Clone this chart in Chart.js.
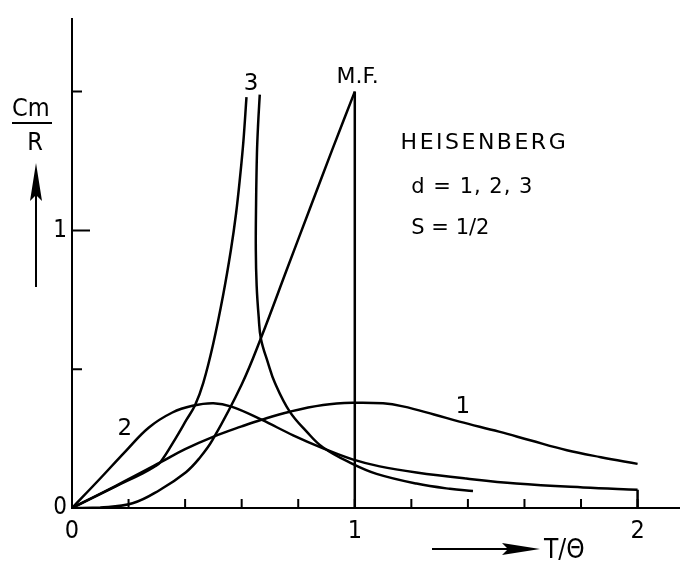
<!DOCTYPE html>
<html>
<head>
<meta charset="utf-8">
<script src="https://cdn.jsdelivr.net/npm/chart.js@4/dist/chart.umd.min.js"></script>
<style>
    html, body { margin: 0; padding: 0; background: #fff; }
    #wrap { width: 680px; height: 565px; position: relative; }
</style>
</head>
<body>
<div id="wrap"><canvas id="myChart"></canvas></div>
<script>
// reduced temperature T/theta and specific heat Cm/R
const d1T = [0, 0.155, 0.314, 0.4, 0.503, 0.6, 0.67, 0.77, 0.888, 0.992, 1.1, 1.17, 1.28, 1.37, 1.51, 1.62, 1.75, 1.87, 2.0]
const d1C = [0, 0.08, 0.165, 0.212, 0.258, 0.294, 0.318, 0.347, 0.371, 0.379, 0.377, 0.366, 0.337, 0.311, 0.275, 0.244, 0.208, 0.183, 0.159]

const d2T = [0, 0.093, 0.19, 0.272, 0.355, 0.426, 0.5, 0.564, 0.67, 0.782, 0.888, 0.992, 1.088, 1.218, 1.394, 1.571, 1.807, 2.0]
const d2C = [0, 0.099, 0.205, 0.29, 0.344, 0.368, 0.377, 0.365, 0.318, 0.262, 0.215, 0.175, 0.15, 0.128, 0.106, 0.088, 0.074, 0.066]

// d = 3 below and above the critical point
const d3LowT = [0, 0.155, 0.25, 0.29, 0.314, 0.367, 0.405, 0.435, 0.464, 0.499, 0.535, 0.562, 0.58, 0.595, 0.606, 0.617]
const d3LowC = [0, 0.078, 0.125, 0.148, 0.167, 0.252, 0.318, 0.37, 0.45, 0.59, 0.77, 0.93, 1.06, 1.2, 1.32, 1.48]
const d3HighT = [0.664, 0.658, 0.654, 0.651, 0.65, 0.653, 0.66, 0.668, 0.693, 0.717, 0.77, 0.829, 0.888, 0.992, 1.077, 1.218, 1.336, 1.418]
const d3HighC = [1.489, 1.38, 1.277, 1.1, 0.93, 0.8, 0.69, 0.61, 0.523, 0.452, 0.347, 0.276, 0.218, 0.159, 0.123, 0.088, 0.069, 0.061]

// mean field
const mfT = [0, 0.1, 0.214, 0.309, 0.403, 0.452, 0.497, 0.6, 0.67, 0.76, 0.84, 0.92, 1.0]
const mfC = [0, 0.002, 0.017, 0.064, 0.129, 0.181, 0.245, 0.445, 0.617, 0.86, 1.075, 1.29, 1.5]
const mfJumpT = [1.0, 1.0]
const mfJumpC = [1.5, 0]
const d2EndT = [2.0, 2.0]
const d2EndC = [0.066, 0]

const xTickMarks = [0.2, 0.4, 0.6, 0.8, 1.0, 1.2, 1.4, 1.6, 1.8, 2.0]
const yTickMarks = [0.5, 1, 1.5]
const xLabels = [0, 1, 2]
const yLabels = [0, 1]

const FONT = "'DejaVu Sans', sans-serif"
const NARROW = "'DejaVu Sans Condensed', 'DejaVu Sans', sans-serif"

function pts(xs, ys) {
    return xs.map((x, i) => ({x: x, y: ys[i]}))
}

function line(data, tension) {
    return {
        data: data,
        showLine: true,
        borderColor: '#000',
        borderWidth: 2.5,
        pointRadius: 0,
        tension: tension || 0,
        fill: false
    }
}

// inward tick marks, text and arrows
const extras = {
    id: 'extras',
    afterDraw(chart) {
        const ctx = chart.ctx
        const xs = chart.scales.x
        const ys = chart.scales.y
        const x0 = xs.getPixelForValue(0)
        const y0 = ys.getPixelForValue(0)
        ctx.save()
        ctx.strokeStyle = '#000'
        ctx.fillStyle = '#000'
        ctx.lineWidth = 2
        ctx.beginPath()
        xTickMarks.forEach(v => {
            const px = xs.getPixelForValue(v)
            ctx.moveTo(px, y0)
            ctx.lineTo(px, y0 - 9)
        })
        yTickMarks.forEach(v => {
            const py = ys.getPixelForValue(v)
            ctx.moveTo(x0, py)
            ctx.lineTo(x0 + (v === 1 ? 18 : 10), py)
        })
        ctx.stroke()

        const put = (txt, tx, ty, size, align) => {
            ctx.font = size + 'px ' + FONT
            ctx.textAlign = align
            ctx.textBaseline = 'middle'
            ctx.fillText(txt, xs.getPixelForValue(tx), ys.getPixelForValue(ty))
        }
        put('3', 0.633, 1.527, 23, 'center')
        put('M.F.', 1.01, 1.551, 22, 'center')
        put('1', 1.382, 0.364, 23, 'center')
        put('2', 0.187, 0.283, 23, 'center')
        ctx.letterSpacing = '2.5px'
        put('HEISENBERG', 1.162, 1.314, 22, 'left')
        ctx.letterSpacing = '1px'
        put('d = 1, 2, 3', 1.2, 1.155, 21, 'left')
        ctx.letterSpacing = '0px'
        put('S = 1/2', 1.2, 1.007, 21, 'left')

        // Cm / R fraction with arrow
        ctx.font = '25px ' + NARROW
        ctx.textAlign = 'left'
        ctx.textBaseline = 'alphabetic'
        ctx.fillText('Cm', 12, 116)
        ctx.fillRect(12, 122, 40, 2)
        ctx.textAlign = 'center'
        ctx.fillText('R', 35, 150)
        ctx.beginPath()
        ctx.moveTo(36, 287)
        ctx.lineTo(36, 190)
        ctx.stroke()
        ctx.beginPath()
        ctx.moveTo(36, 163)
        ctx.lineTo(42, 201)
        ctx.lineTo(36, 195)
        ctx.lineTo(30, 201)
        ctx.closePath()
        ctx.fill()

        // T / theta arrow
        ctx.beginPath()
        ctx.moveTo(432, 549)
        ctx.lineTo(510, 549)
        ctx.stroke()
        ctx.beginPath()
        ctx.moveTo(540, 549)
        ctx.lineTo(502, 543)
        ctx.lineTo(508, 549)
        ctx.lineTo(502, 555)
        ctx.closePath()
        ctx.fill()
        ctx.font = '26px ' + NARROW
        ctx.textAlign = 'left'
        ctx.textBaseline = 'middle'
        ctx.fillText('T/Θ', 544, 551)
        ctx.restore()
    }
}

const ctx = document.getElementById('myChart').getContext('2d')

const myChart = new Chart(ctx, {
    type: 'scatter',
    data: {
        datasets: [
            line(pts(d1T, d1C), 0.4),
            line(pts(d2T, d2C), 0.4),
            line(pts(d2EndT, d2EndC)),
            line(pts(d3LowT, d3LowC), 0.4),
            line(pts(d3HighT, d3HighC), 0.4),
            line(pts(mfT, mfC), 0.4),
            line(pts(mfJumpT, mfJumpC))
        ]
    },
    options: {
        responsive: true,
        maintainAspectRatio: false,
        animation: false,
        layout: { padding: { top: 10, right: 0, left: 0, bottom: 0 } },
        plugins: {
            legend: { display: false },
            tooltip: { enabled: false }
        },
        scales: {
            x: {
                type: 'linear',
                min: 0,
                max: 2.15,
                grid: { display: false, drawTicks: false },
                border: { display: true, color: '#000', width: 2 },
                afterFit: (s) => { s.height = 57 },
                afterBuildTicks: (s) => { s.ticks = xLabels.map(v => ({value: v})) },
                ticks: {
                    autoSkip: false,
                    maxRotation: 0,
                    padding: 8,
                    color: '#000',
                    font: { family: NARROW, size: 25 },
                    callback: (v) => String(Math.round(v))
                }
            },
            y: {
                type: 'linear',
                min: 0,
                max: 1.76,
                grid: { display: false, drawTicks: false },
                border: { display: true, color: '#000', width: 2 },
                afterFit: (s) => { s.width = 72 },
                afterBuildTicks: (s) => { s.ticks = yLabels.map(v => ({value: v})) },
                ticks: {
                    autoSkip: false,
                    padding: 5,
                    color: '#000',
                    font: { family: NARROW, size: 24 },
                    callback: (v) => String(Math.round(v))
                }
            }
        }
    },
    plugins: [extras]
})
</script>
</body>
</html>
